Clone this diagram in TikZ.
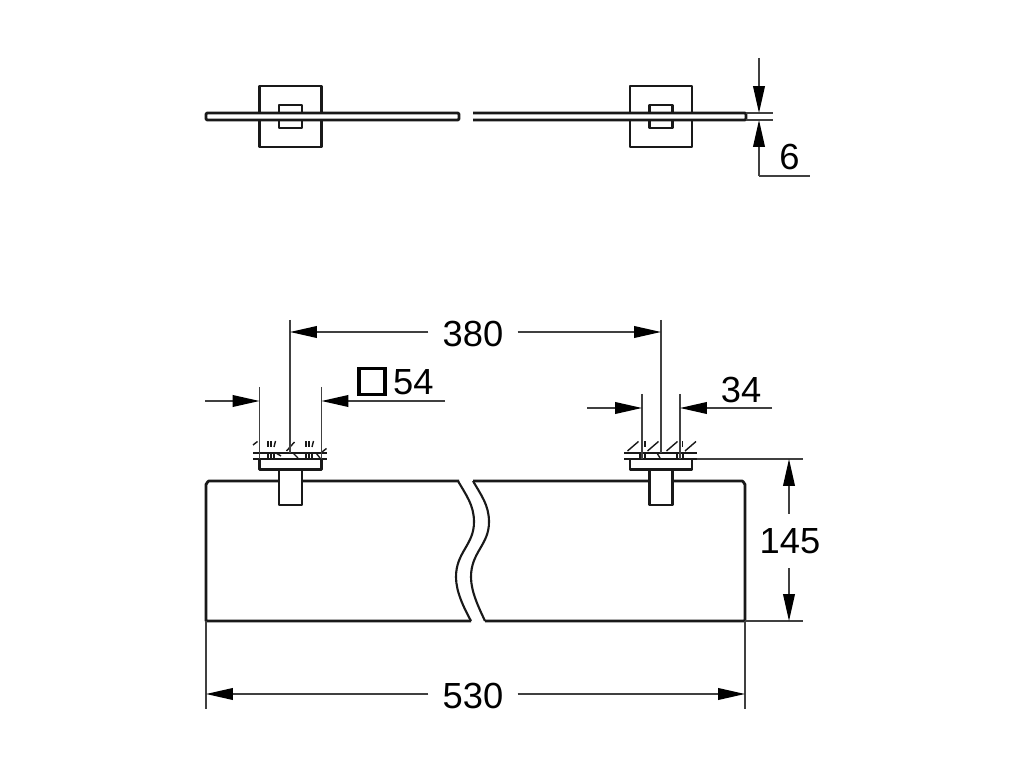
\documentclass[tikz,border=0pt]{standalone}
\usepackage{fontspec}
\setmainfont{Liberation Sans}
\usetikzlibrary{arrows.meta}

\begin{document}
\begin{tikzpicture}[
    x=0.03cm, y=-0.03cm,
    % outlines of the shelf and its brackets
    outline style/.style={
        draw=black!90,
        line width=2.4pt,
        line join=round,
        fill=white
    },
    % thin lines of the dimensions
    dim style/.style={
        draw=black!75,
        line width=1.25pt
    },
    % dimension line with a long narrow tip
    arrow style/.style={
        dim style,
        -{Triangle[length=23pt, width=10pt, color=black]}
    },
    % hatching of the wall
    hatch style/.style={
        draw=black!90,
        line width=1.2pt
    },
    % dimension labels
    label style/.style={
        font=\fontsize{31}{31}\selectfont,
        text height=22pt,
        text depth=0pt,
        inner xsep=12pt,
        inner ysep=12pt
    }
]
\useasboundingbox[fill=white] (0,0) rectangle (1025,769);

% top view
\foreach \cx in {290.5,661} {
    \draw[outline style] (\cx-31,86) rectangle (\cx+31,147);
    \draw[outline style] (\cx-11.5,105) rectangle (\cx+11.5,128);
}
\draw[outline style, rounded corners=1pt] (459,113) -- (206,113) -- (206,120) -- (459,120) -- cycle;
\draw[outline style, rounded corners=1pt] (473,113) -- (746,113) -- (746,120) -- (473,120);

% front view: the glass
\draw[outline style, fill=none] (459,481) -- (209,481) to[out=180,in=-90] (206,484) -- (206,621) -- (471,621);
\draw[outline style, fill=none] (473,481) -- (742,481) to[out=0,in=-90] (745,484) -- (745,621) -- (485,621);
\draw[outline style, line width=1.8pt, fill=none] (458,481) .. controls (466,495) and (474,505) .. (474,522)
    .. controls (474,545) and (456,552) .. (456,577) .. controls (456,592) and (464,608) .. (471,621);
\draw[outline style, line width=1.8pt, fill=none] (473,481) .. controls (481,495) and (489,505) .. (489,522)
    .. controls (489,545) and (471,552) .. (471,577) .. controls (471,592) and (479,608) .. (485,621);

% front view: the brackets
\foreach \cx in {290.5,661} {
    \draw[outline style] (\cx-11.5,469) rectangle (\cx+11.5,505);
    \draw[outline style] (\cx-31,459) rectangle (\cx+31,469.5);
}
\draw[outline style, fill=none, line width=1.7pt] (253,453) -- (327,453);
\draw[outline style, fill=none, line width=1.7pt] (253,459) -- (327,459);
\draw[outline style, fill=none, line width=1.7pt] (624,453) -- (697,453);
\draw[outline style, fill=none, line width=1.7pt] (624,459) -- (697,459);

% wall hatching, left bracket
\foreach \xa/\ya/\xb/\yb in {253/445/257.5/441.5, 268/447/268/441, 271/447/271/441, 274/447/275.5/441,
    286.5/451/294.5/442, 306/447/306/441, 309/447/309/441, 312/447/313.5/441, 322/452/326.5/448.5,
    268/453/268/459, 271/453/271/459, 274/453/274/459, 306/453/306/459, 309/453/309/459, 312/453/312/459,
    276/453/281/456, 293/453/298/458, 316/453/320/458} {
    \draw[hatch style] (\xa,\ya) -- (\xb,\yb);
}
% wall hatching, right bracket
\foreach \xa/\ya/\xb/\yb in {627.5/451/638.5/441.5, 645/447/645/441, 647.5/451/658.5/441.5,
    666.5/451/677.5/441.5, 682.5/447/682.5/441, 685/451/696/441.5,
    640/453/640/459, 645/453/645/459, 677/453/677/459, 683/453/683/459,
    657/453/660/458} {
    \draw[hatch style] (\xa,\ya) -- (\xb,\yb);
}

% labels
\node[label style] (t6) at (789.5,157) {6};
\node[label style] (t380) at (473,334) {380};
\node[label style] (t34) at (741,390) {34};
\node[label style] (t145) at (790,541) {145};
\node[label style] (t530) at (473,696) {530};
\node[label style, anchor=west, inner xsep=0pt] (t54) at (393,382) {54};
\node[draw=black, line width=3.2pt, minimum size=22pt, inner sep=0pt] (sq54) at (372,381.5) {};

% named points of the dimensions
\coordinate (s6a) at (759,58);
\coordinate (e6a) at (759,113);
\coordinate (e6b) at (759,120);
\coordinate (s6b) at (759,176);
\coordinate (f6) at (810,176);
\coordinate (x6a) at (746,113);
\coordinate (y6a) at (773,113);
\coordinate (x6b) at (746,120);
\coordinate (y6b) at (773,120);
\coordinate (l380) at (290,320);
\coordinate (m380) at (290,332);
\coordinate (n380) at (290,453);
\coordinate (r380) at (661,320);
\coordinate (q380) at (661,332);
\coordinate (p380) at (661,453);
\coordinate (la54) at (259.5,387);
\coordinate (lb54) at (259.5,459);
\coordinate (ra54) at (321.5,387);
\coordinate (rb54) at (321.5,459);
\coordinate (sa54) at (205,401);
\coordinate (ea54) at (259.5,401);
\coordinate (sb54) at (445,401);
\coordinate (eb54) at (321.5,401);
\coordinate (la34) at (642,394);
\coordinate (lb34) at (642,459);
\coordinate (ra34) at (680,394);
\coordinate (rb34) at (680,459);
\coordinate (sa34) at (587,408);
\coordinate (ea34) at (642,408);
\coordinate (sb34) at (772,408);
\coordinate (eb34) at (680,408);
\coordinate (a145) at (697,459);
\coordinate (b145) at (803,459);
\coordinate (c145) at (745,621);
\coordinate (d145) at (803,621);
\coordinate (u145) at (789,459);
\coordinate (v145) at (789,621);
\coordinate (a530) at (206,621);
\coordinate (b530) at (206,709);
\coordinate (c530) at (745,621);
\coordinate (d530) at (745,709);
\coordinate (u530) at (206,694);
\coordinate (v530) at (745,694);

% dimensions
\draw[arrow style] (s6a) -- (e6a);
\draw[arrow style] (s6b) -- (e6b);
\draw[dim style] (s6b) -- (f6);
\draw[dim style] (x6a) -- (y6a);
\draw[dim style] (x6b) -- (y6b);

\draw[dim style] (l380) -- (n380);
\draw[dim style] (r380) -- (p380);
\draw[arrow style] (t380.west |- m380) -- (m380);
\draw[arrow style] (t380.east |- q380) -- (q380);

\draw[dim style] (la54) -- (lb54);
\draw[dim style] (ra54) -- (rb54);
\draw[arrow style] (sa54) -- (ea54);
\draw[arrow style] (sb54) -- (eb54);

\draw[dim style] (la34) -- (lb34);
\draw[dim style] (ra34) -- (rb34);
\draw[arrow style] (sa34) -- (ea34);
\draw[arrow style] (sb34) -- (eb34);

\draw[dim style] (a145) -- (b145);
\draw[dim style] (c145) -- (d145);
\draw[arrow style] (t145.north -| u145) -- (u145);
\draw[arrow style] (t145.south -| v145) -- (v145);

\draw[dim style] (a530) -- (b530);
\draw[dim style] (c530) -- (d530);
\draw[arrow style] (t530.west |- u530) -- (u530);
\draw[arrow style] (t530.east |- v530) -- (v530);

\end{tikzpicture}
\end{document}
